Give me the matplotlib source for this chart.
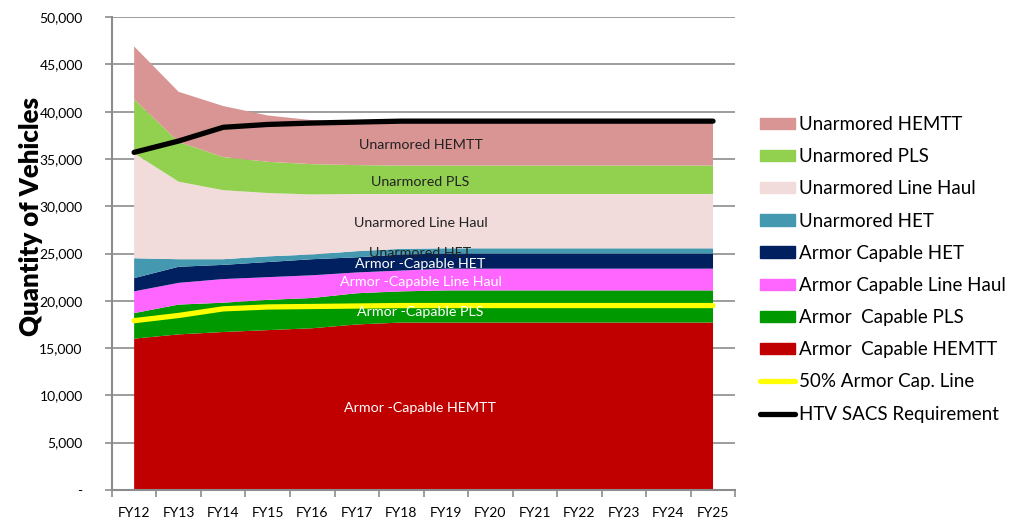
import numpy as np
import matplotlib
matplotlib.use("Agg")
import matplotlib.pyplot as plt
from matplotlib.patches import Patch
from matplotlib.lines import Line2D
from matplotlib.ticker import FuncFormatter

plt.rcParams['font.family'] = ['Lato', 'DejaVu Sans']

years = ['FY12', 'FY13', 'FY14', 'FY15', 'FY16', 'FY17', 'FY18',
         'FY19', 'FY20', 'FY21', 'FY22', 'FY23', 'FY24', 'FY25']

# stacked layers, bottom to top
armor_hemtt = [16000, 16450, 16700, 16900, 17100, 17500, 17700,
               17700, 17700, 17700, 17700, 17700, 17700, 17700]
armor_pls = [2700, 3150, 3100, 3200, 3200, 3300, 3300,
             3400, 3400, 3400, 3400, 3400, 3400, 3400]
armor_linehaul = [2300, 2300, 2500, 2400, 2400, 2200, 2200,
                  2300, 2300, 2300, 2300, 2300, 2300, 2300]
armor_het = [1400, 1700, 1500, 1600, 1700, 1600, 1700,
             1600, 1600, 1600, 1600, 1600, 1600, 1600]
unarm_het = [2100, 800, 600, 600, 500, 650, 600,
             550, 550, 550, 550, 550, 550, 550]
unarm_linehaul = [11100, 8200, 7300, 6700, 6350, 6050, 5800,
                  5750, 5750, 5750, 5750, 5750, 5750, 5750]
unarm_pls = [5700, 4200, 3500, 3300, 3200, 3050, 3000,
             3000, 3000, 3000, 3000, 3000, 3000, 3000]
unarm_hemtt = [5600, 5300, 5400, 4900, 4650, 4550, 4600,
               4600, 4600, 4600, 4600, 4600, 4600, 4600]

armor_half_line = [17900, 18450, 19150, 19350, 19400, 19450, 19500,
                   19500, 19500, 19500, 19500, 19500, 19500, 19500]
sacs_req = [35700, 36900, 38350, 38650, 38800, 38900, 39000,
            39000, 39000, 39000, 39000, 39000, 39000, 39000]

layers = [armor_hemtt, armor_pls, armor_linehaul, armor_het,
          unarm_het, unarm_linehaul, unarm_pls, unarm_hemtt]
colors = ['#C00000', '#009900', '#FF66FF', '#002060',
          '#4499B0', '#F2DCDB', '#92D050', '#D99594']
names = ['Armor  Capable HEMTT', 'Armor  Capable PLS', 'Armor Capable Line Haul',
         'Armor Capable HET', 'Unarmored HET', 'Unarmored Line Haul',
         'Unarmored PLS', 'Unarmored HEMTT']

x = np.arange(len(years))

fig = plt.figure(figsize=(10.17, 5.19), dpi=100)
ax = fig.add_axes([0.110, 0.056, 0.613, 0.911])

ax.stackplot(x, *layers, colors=colors, linewidth=0, zorder=2)
ax.plot(x, armor_half_line, color='#FFFF00', lw=3.8, solid_capstyle='round', zorder=3)
ax.plot(x, sacs_req, color='black', lw=3.8, solid_capstyle='round', zorder=4)

# in-chart labels
lab_x = 6.43
fs_in = 10.3
ax.text(lab_x, 36500, 'Unarmored HEMTT', ha='center', va='center', fontsize=fs_in, color='#222222', zorder=5)
ax.text(lab_x, 32600, 'Unarmored PLS', ha='center', va='center', fontsize=fs_in, color='#222222', zorder=5)
ax.text(lab_x, 28200, 'Unarmored Line Haul', ha='center', va='center', fontsize=fs_in, color='#222222', zorder=5)
ax.text(lab_x, 25100, 'Unarmored HET', ha='center', va='center', fontsize=fs_in, color='#222222', zorder=5)
ax.text(lab_x, 23900, 'Armor -Capable HET', ha='center', va='center', fontsize=fs_in, color='white', zorder=5)
ax.text(lab_x, 22000, 'Armor -Capable Line Haul', ha='center', va='center', fontsize=fs_in, color='white', zorder=5)
ax.text(lab_x, 18800, 'Armor -Capable PLS', ha='center', va='center', fontsize=fs_in, color='white', zorder=5)
ax.text(lab_x, 8650, 'Armor -Capable HEMTT', ha='center', va='center', fontsize=fs_in, color='white', zorder=5)

# axes styling
ax.set_xlim(-0.5, len(years) - 0.5)
ax.set_ylim(0, 50000)
ax.set_yticks(np.arange(0, 50001, 5000))
ax.yaxis.set_major_formatter(FuncFormatter(lambda v, p: '-' if v == 0 else f'{int(v):,}'))
ax.grid(axis='y', color='#8C8C8C', lw=1.2, zorder=0)
ax.set_axisbelow(True)
ax.set_xticks(x)
ax.set_xticklabels(years)
ax.set_xticks(np.arange(-0.5, len(years), 1.0), minor=True)
ax.tick_params(axis='x', which='major', length=0, pad=12, labelsize=10)
ax.tick_params(axis='x', which='minor', length=5, color='#8C8C8C', width=1.2)
ax.tick_params(axis='y', length=5, color='#8C8C8C', width=1.2, pad=16, labelsize=10)
for s in ['top', 'right']:
    ax.spines[s].set_visible(False)
for s in ['left', 'bottom']:
    ax.spines[s].set_color('#8C8C8C')
    ax.spines[s].set_linewidth(1.5)

fig.text(31 / 1017, 1 - 217 / 519, 'Quantity of Vehicles', rotation=90,
         ha='center', va='center', fontsize=18.5, fontweight='heavy')

# legend, top to bottom
handles = [Patch(color=c, label=n) for c, n in zip(colors[::-1], names[::-1])]
handles.append(Line2D([], [], color='#FFFF00', lw=3.8, solid_capstyle='round', label='50% Armor Cap. Line'))
handles.append(Line2D([], [], color='black', lw=3.8, solid_capstyle='round', label='HTV SACS Requirement'))
fig.legend(handles=handles, loc='upper left', bbox_to_anchor=(760 / 1017, 1 - 116 / 519),
           frameon=False, fontsize=13.5, handlelength=1.85, handleheight=0.55,
           handletextpad=0.22, labelspacing=0.81, borderpad=0, borderaxespad=0)

fig.savefig('out.png', dpi=100)
